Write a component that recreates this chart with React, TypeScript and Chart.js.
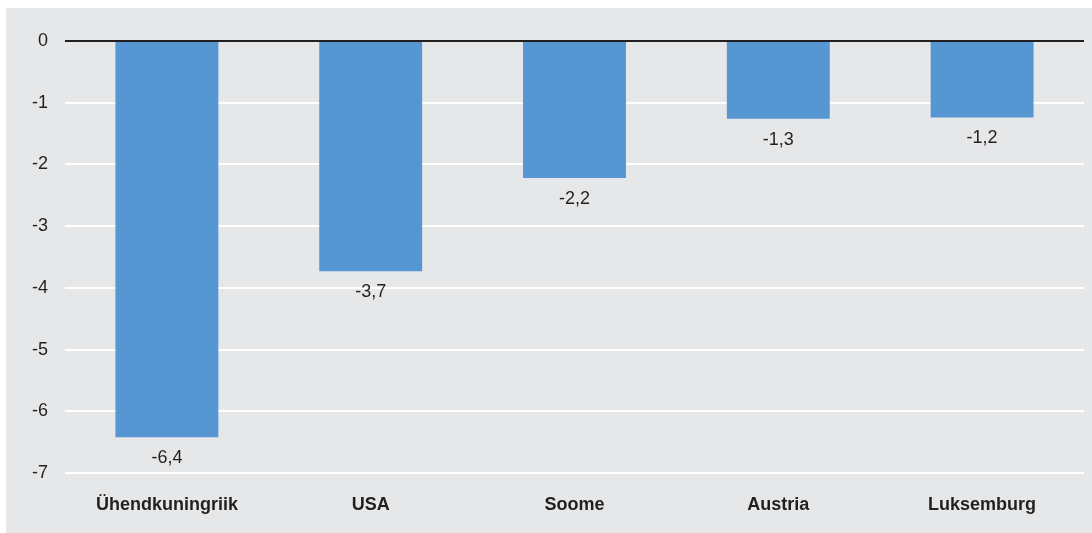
import React, { useEffect, useRef } from "react";
import { Chart, registerables } from "chart.js";

Chart.register(...registerables);

const categories = ["Ühendkuningriik", "USA", "Soome", "Austria", "Luksemburg"];
const values = [-6.42, -3.73, -2.22, -1.26, -1.24];
const yTicks = [0, -1, -2, -3, -4, -5, -6, -7];

const TEXT = "#231f20";
const FONT = "Arial, 'Liberation Sans', sans-serif";

const valueLabels = {
  id: "valueLabels",
  afterDatasetsDraw(chart: any) {
    const { ctx } = chart;
    const meta = chart.getDatasetMeta(0);
    ctx.save();
    ctx.font = `18px ${FONT}`;
    ctx.fillStyle = TEXT;
    ctx.textAlign = "center";
    ctx.textBaseline = "middle";
    meta.data.forEach((el: any, i: number) => {
      const v = values[i];
      const txt = v.toFixed(1).replace(".", ",");
      ctx.fillText(txt, el.x, el.y + 21);
    });
    ctx.restore();
  },
};

export default function App() {
  const ref = useRef<HTMLCanvasElement | null>(null);
  useEffect(() => {
    if (!ref.current) return;
    const chart = new Chart(ref.current, {
      type: "bar",
      data: {
        labels: categories,
        datasets: [
          {
            data: values,
            backgroundColor: "#5596d3",
            borderWidth: 0,
            categoryPercentage: 1,
            barPercentage: 0.505,
          },
        ],
      },
      options: {
        animation: false,
        responsive: false,
        layout: { padding: { top: 33, right: 8, left: 0, bottom: 0 } },
        plugins: { legend: { display: false }, tooltip: { enabled: false } },
        scales: {
          x: {
            grid: { display: false, drawTicks: false },
            border: { display: false },
            ticks: {
              color: TEXT,
              font: { family: FONT, size: 18, weight: "bold" },
              padding: 21,
              maxRotation: 0,
              autoSkip: false,
            },
            afterFit: (s: any) => {
              s.height = 60;
            },
          },
          y: {
            min: -7,
            max: 0,
            afterBuildTicks: (s: any) => {
              s.ticks = yTicks.map((v) => ({ value: v }));
            },
            grid: {
              drawTicks: false,
              lineWidth: 2,
              color: (c: any) => (c.tick && c.tick.value === 0 ? TEXT : "#ffffff"),
            },
            border: { display: false },
            ticks: {
              color: TEXT,
              font: { family: FONT, size: 18 },
              padding: 17,
              callback: (v: any) => String(v),
            },
            afterFit: (s: any) => {
              s.width = 59;
            },
          },
        },
      },
      plugins: [valueLabels],
    });
    return () => chart.destroy();
  }, []);
  return (
    <div
      style={{
        position: "fixed",
        left: 6,
        top: 8,
        width: 1086,
        height: 525,
        background: "#e6e7e9",
      }}
    >
      <canvas ref={ref} width={1086} height={525} />
    </div>
  );
}
